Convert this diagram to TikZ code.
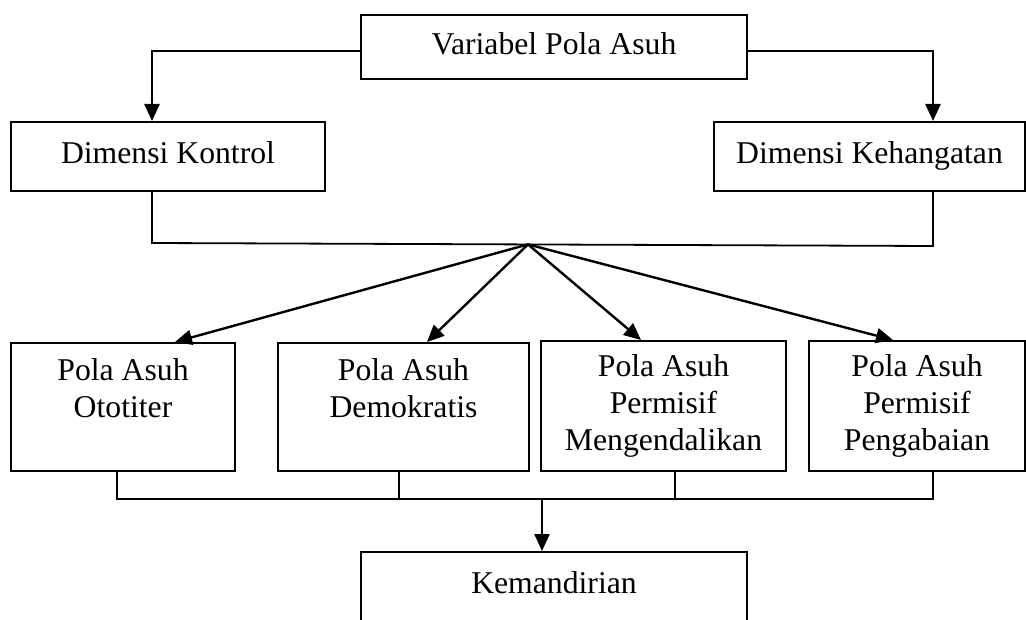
\documentclass[tikz,border=0pt]{standalone}
\usepackage{fontspec}
\setmainfont{Liberation Serif}
\usetikzlibrary{arrows.meta,calc}
\begin{document}
\begin{tikzpicture}[x=1pt,y=-1pt,
  box/.style={draw,line width=2pt,rectangle,inner sep=0pt,align=center,
    font=\fontsize{31.7}{37}\selectfont},
  one/.style={text height=22pt,text depth=7pt},
  conn/.style={line width=1.8pt},
  arr/.style={line width=2.4pt,-{Triangle[length=17pt,width=15pt]}}]
\useasboundingbox (0,0) rectangle (1026,620);
\clip (0,0) rectangle (1026,620);
% boxes
\node[box,one,minimum width=386pt,minimum height=64pt] (top) at (554,47) {Variabel Pola Asuh};
\node[box,one,minimum width=314pt,minimum height=69pt] (dk) at (168,156.5) {Dimensi Kontrol};
\node[box,one,minimum width=311pt,minimum height=69pt] (dh) at (869.5,156.5) {Dimensi Kehangatan};
\node[box,minimum width=224pt,minimum height=128pt] (p1) at (123,407) {Pola Asuh\\Ototiter\\\mbox{}};
\node[box,minimum width=251pt,minimum height=128pt] (p2) at (403.5,407) {Pola Asuh\\Demokratis\\\mbox{}};
\node[box,minimum width=245pt,minimum height=130pt] (p3) at (663.5,406) {Pola Asuh\\Permisif\\Mengendalikan};
\node[box,minimum width=216pt,minimum height=130pt] (p4) at (917,406) {Pola Asuh\\Permisif\\Pengabaian};
\node[box,minimum width=386pt,anchor=north,inner ysep=19.5pt] (km) at (554,551) {Kemandirian\\\mbox{}\\\mbox{}};
% top arrows
\draw[arr] ([yshift=-4pt]top.west) -| ([xshift=-16pt]dk.north);
\draw[arr] ([yshift=-4pt]top.east) -| ([xshift=63.5pt]dh.north);
% middle junction
\coordinate (jl) at (152,243);
\coordinate (jr) at (933,246);
\coordinate (j) at (528,244.4);
\draw[conn] ([xshift=-16pt]dk.south) -- (jl) -- (jr) -- ([xshift=63.5pt]dh.south);
\draw[arr] (j) -- ([xshift=52pt]p1.north);
\draw[arr] (j) -- ([xshift=23.5pt]p2.north);
\draw[arr] (j) -- ([xshift=-22.5pt]p3.north);
\draw[arr] (j) -- ([xshift=-24pt]p4.north);
% bottom joining
\coordinate (bl) at (117,499);
\coordinate (br) at (933,499);
\coordinate (bm) at (542,499);
\draw[conn] ([xshift=-6pt]p1.south) -- (bl) -- (br) -- ([xshift=16pt]p4.south);
\draw[conn] ([xshift=-4.5pt]p2.south) -- ([xshift=-4.5pt]p2.south |- bl);
\draw[conn] ([xshift=11.5pt]p3.south) -- ([xshift=11.5pt]p3.south |- bl);
\draw[arr] (bm) -- ([xshift=-12pt]km.north);
\end{tikzpicture}
\end{document}
